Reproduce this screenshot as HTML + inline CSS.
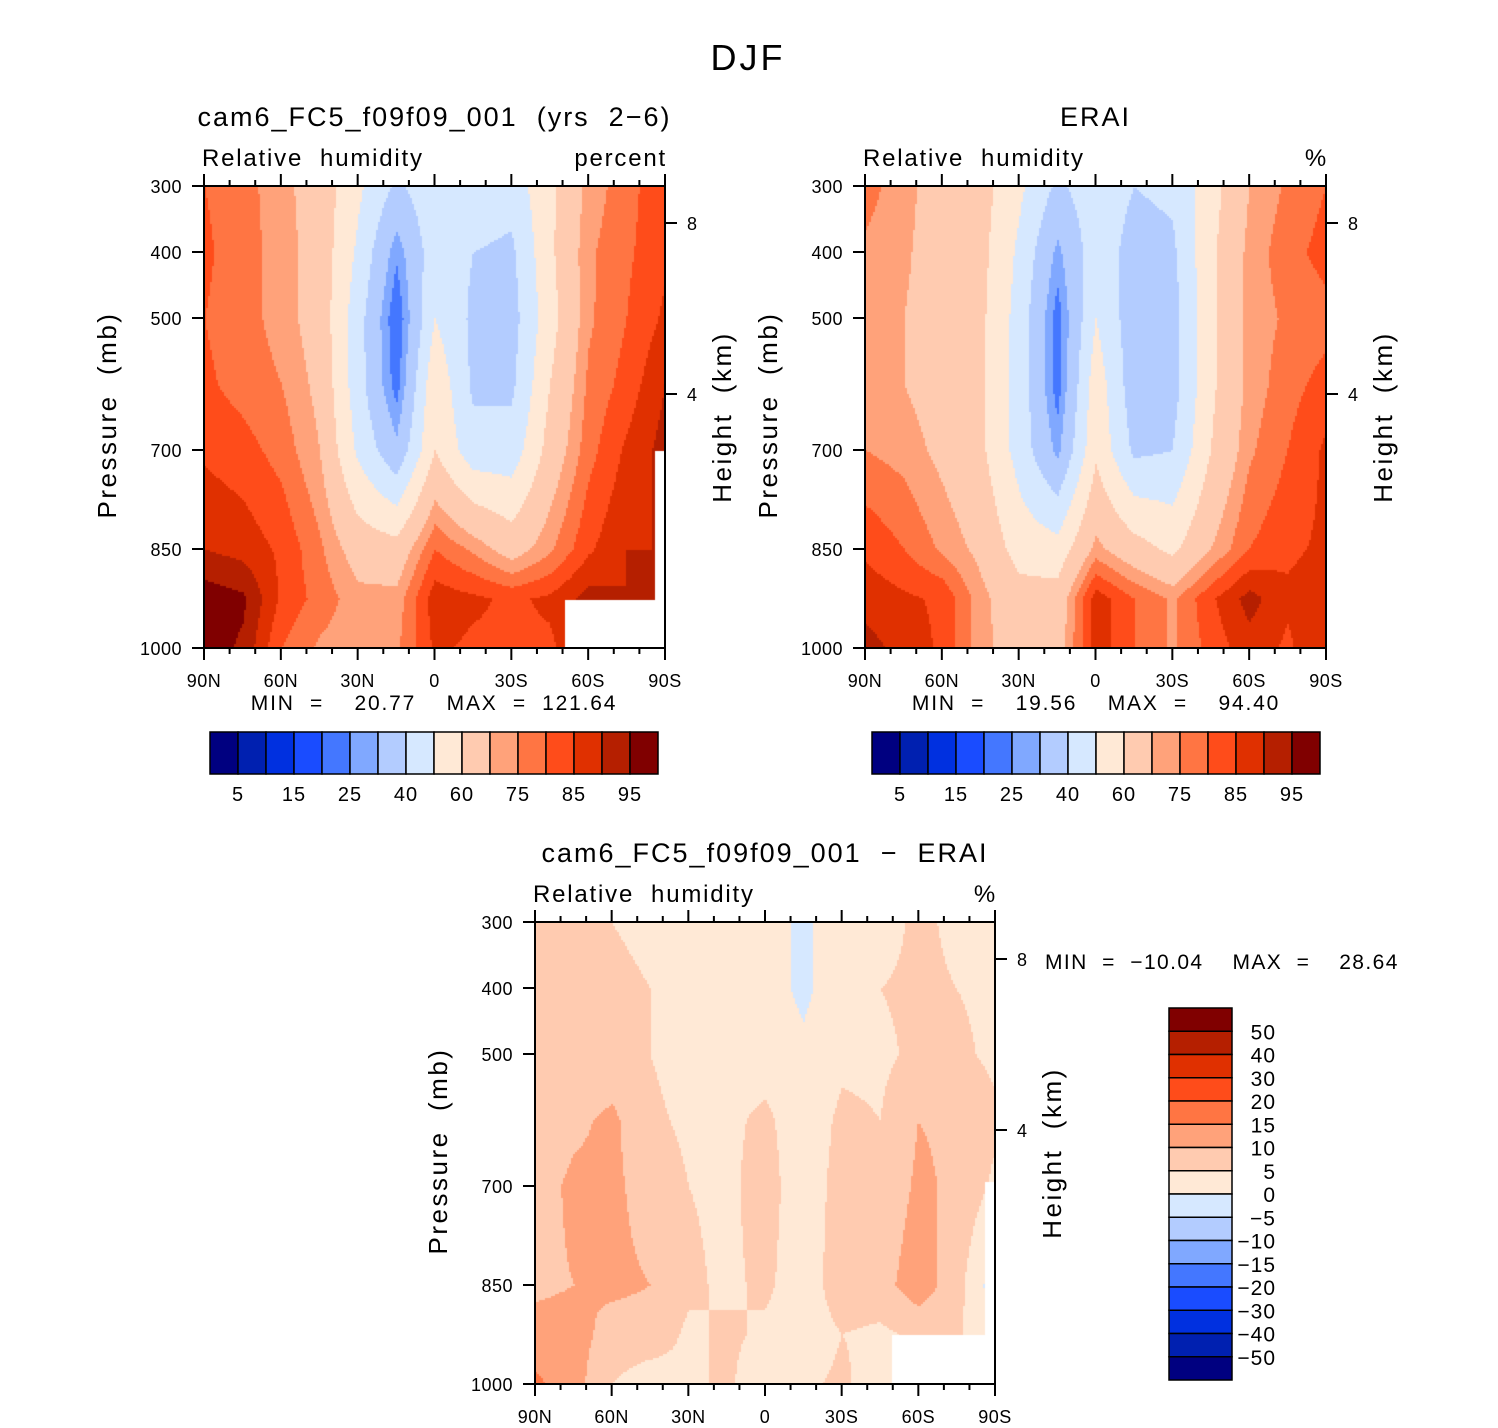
<!DOCTYPE html>
<html><head><meta charset="utf-8">
<style>
body{margin:0;background:#fff;width:1498px;height:1428px;overflow:hidden;position:relative;font-family:"Liberation Sans",sans-serif}
canvas{position:absolute}
svg{position:absolute;left:0;top:0}
text{white-space:pre}
</style></head>
<body>
<canvas id="c1" width="461" height="462" style="left:204px;top:186px"></canvas>
<canvas id="c2" width="461" height="462" style="left:865px;top:186px"></canvas>
<canvas id="c3" width="460" height="462" style="left:535px;top:922px"></canvas>
<svg id="s" width="1498" height="1428"></svg>
<script>
const lats=[90,75,60,45,30,15,0,-15,-30,-45,-60,-75,-90];
const pres=[300,400,500,600,700,850,925,1000];
const modelRH=[
[80,77,72,66,52,38,47,46,44,58,72,78,84],
[81,77,73,66,48,26,46,40,38,58,74,79,84],
[80,77,73,66,44,20,50,38,36,56,74,80,86],
[81,78,75,68,44,22,58,38,38,60,76,82,90],
[84,82,78,70,48,32,60,44,44,64,78,86,92],
[90,88,84,76,66,64,80,74,66,74,84,90,90],
[98,96,84,78,72,72,88,86,84,86,92,90,90],
[98,94,80,74,72,74,86,84,84,84,90,90,90]];
const eraiRH=[
[77,72,66,64,52,38,46,40,42,56,70,76,80],
[74,71,66,63,48,28,46,36,38,58,72,78,82],
[72,70,66,62,46,22,50,34,36,58,72,76,78],
[72,70,66,62,46,22,56,34,36,58,72,78,82],
[75,73,68,62,46,28,58,38,40,60,74,80,86],
[84,80,74,68,56,54,72,64,58,70,80,84,86],
[88,86,84,72,64,64,88,80,74,84,92,86,88],
[92,88,84,72,66,66,88,80,74,82,88,84,90]];
const diffRH=[
[5,6,5,4,2,3,2,-1,3,3,6,4,4],
[6,7,6,5,3,2,2,-1,3,5,6,5,4],
[6,7,7,5,3,3,3,1,4,4,6,6,4],
[7,9,11,6,4,4,6,2,6,5,10,9,6],
[8,11,11,8,5,4,7,2,7,6,11,9,4],
[9,10,11,10,6,4,6,2,8,8,13,7,-3],
[12,12,8,8,4,6,4,2,5,4,6,6,0],
[16,12,5,2,4,6,1,4,6,2,4,6,0]];
const absLevels=[5,10,15,20,25,30,40,50,60,70,75,80,85,90,95];
const diffLevels=[-50,-40,-30,-20,-15,-10,-5,0,5,10,15,20,30,40,50];
const colors=["#000080","#0020b0","#0030e0","#1a4cff","#4477ff","#80a8ff","#b3ccff","#d6e8ff","#ffe9d6","#ffcbb0","#ffa27a","#ff7543","#ff4c1a","#e03000","#b51f00","#800000"];
const absTickLabels=["5","15","25","40","60","75","85","95"];
const diffTickLabels=["50","40","30","20","15","10","5","0","\u22125","\u221210","\u221215","\u221220","\u221230","\u221240","\u221250"];
const latLabels=["90N","60N","30N","0","30S","60S","90S"];
const presLabels=[300,400,500,700,850,1000];

function band(v,lv){let i=0;for(const l of lv){if(v>=l)i++;}return i;}
function sample(g,lat,p){
  let fi=(90-lat)/15;let i=Math.min(Math.floor(fi),lats.length-2);let tx=fi-i;
  let j=0;while(j<pres.length-2&&p>pres[j+1])j++;
  let ty=(p-pres[j])/(pres[j+1]-pres[j]);ty=Math.max(0,Math.min(1,ty));
  const a=g[j][i],b=g[j][i+1],c=g[j+1][i],d=g[j+1][i+1];
  return (a*(1-tx)+b*tx)*(1-ty)+(c*(1-tx)+d*tx)*ty;
}
function field(id,g,lv){
  const cv=document.getElementById(id),ctx=cv.getContext('2d');const W=cv.width,H=cv.height;
  for(let y=0;y<H;y+=2)for(let x=0;x<W;x+=2){
    const lat=90-x/(W-1)*180,p=300+y/(H-1)*700;
    ctx.fillStyle=colors[band(sample(g,lat,p),lv)];ctx.fillRect(x,y,2,2);
  }
  return ctx;
}
const k1=field('c1',modelRH,absLevels);k1.fillStyle='#fff';k1.fillRect(361,414,100,48);k1.fillRect(451,265,10,150);
field('c2',eraiRH,absLevels);
const k3=field('c3',diffRH,diffLevels);k3.fillStyle='#fff';k3.fillRect(357,413,103,49);k3.fillRect(450,260,10,153);

const S=document.getElementById('s');const NS='http://www.w3.org/2000/svg';
function el(t,a,txt){const e=document.createElementNS(NS,t);for(const k in a)e.setAttribute(k,a[k]);if(txt!==undefined)e.textContent=txt;S.appendChild(e);return e;}
function text(x,y,s,size,anchor,name,rot,ls){const a={x:x,y:y,'font-size':size,'text-anchor':anchor||'middle',fill:'#000','font-family':'Liberation Sans, sans-serif','letter-spacing':(ls===undefined?1.5:ls)};if(rot)a.transform='rotate(-90 '+x+' '+y+')';const e=el('text',a,s);

return e;}

function panel(x0,y0,W,H,title,unit,pfx){
  const xs=lat=>x0+(90-lat)/180*W, ys=p=>y0+(p-300)/700*H;
  const r=el('rect',{x:x0,y:y0,width:W,height:H,fill:'none',stroke:'#000','stroke-width':2});
  
  
  for(let lat=90;lat>=-90;lat-=10){const x=xs(lat);const maj=lat%30===0;const L=maj?12:6;
    el('line',{x1:x,y1:y0+H,x2:x,y2:y0+H+L,stroke:'#000','stroke-width':2});
    el('line',{x1:x,y1:y0,x2:x,y2:y0-L,stroke:'#000','stroke-width':2});}
  latLabels.forEach((s,i)=>text(xs(90-i*30),y0+H+39,s,18,'middle',pfx+'-x-tick-label',false,0.5));
  presLabels.forEach(p=>{const y=ys(p);el('line',{x1:x0-12,y1:y,x2:x0,y2:y,stroke:'#000','stroke-width':2});text(x0-22,y+7,String(p),18,'end',pfx+'-y-tick-label',false,0.5);});
  [[8,37],[4,208]].forEach(([h,dy])=>{const y=y0+dy;el('line',{x1:x0+W,y1:y,x2:x0+W+12,y2:y,stroke:'#000','stroke-width':2});text(x0+W+22,y+7,String(h),18,'start',pfx+'-height-tick-label');});
  text(x0-2,y0-20,'Relative  humidity',24,'start',pfx+'-variable-label',false,1.8);
  text(x0+W+2,y0-20,unit,24,'end',pfx+'-unit-label',false,1.8);
  text(x0+W/2,y0-60,title,27,'middle',pfx+'-title',false,2);
  text(x0-88,y0+H/2-2,'Pressure  (mb)',26,'middle',pfx+'-y-axis-title',true,2.5);
  text(x0+W+66,y0+H/2,'Height  (km)',26,'middle',pfx+'-height-axis-title',true,2.5);
}
text(748,70,'DJF',36,'middle','figure-title',false,3);
panel(204,186,461,462,'cam6_FC5_f09f09_001  (yrs  2\u22126)','percent','model');
panel(865,186,461,462,'ERAI','%','erai');
panel(535,922,460,462,'cam6_FC5_f09f09_001  \u2212  ERAI','%','diff');
text(434,710,'MIN  =    20.77    MAX  =  121.64',21,'middle','model-min-max',false,1.8);
text(1096,710,'MIN  =    19.56    MAX  =    94.40',21,'middle','erai-min-max',false,1.8);
text(1045,969,'MIN  =  \u221210.04    MAX  =    28.64',21,'start','diff-min-max',false,1.4);

function hbar(x0,y0,pfx){
  colors.forEach((c,i)=>{const r=el('rect',{x:x0+i*28,y:y0,width:28,height:42,fill:c,stroke:'#000','stroke-width':1.5});
  
  });
  absTickLabels.forEach((s,i)=>text(x0+28+i*56,y0+69,s,20,'middle',pfx+'-colorbar-label',false,1));
}
hbar(210,732,'model');hbar(872,732,'erai');
const bh=372/16;
colors.slice().reverse().forEach((c,i)=>{const r=el('rect',{x:1169,y:1008+i*bh,width:63,height:bh,fill:c,stroke:'#000','stroke-width':1.5});

});
diffTickLabels.forEach((s,i)=>text(1276,1008+(i+1)*bh+8,s,21,'end','diff-colorbar-label',false,1));
</script>
</body></html>
